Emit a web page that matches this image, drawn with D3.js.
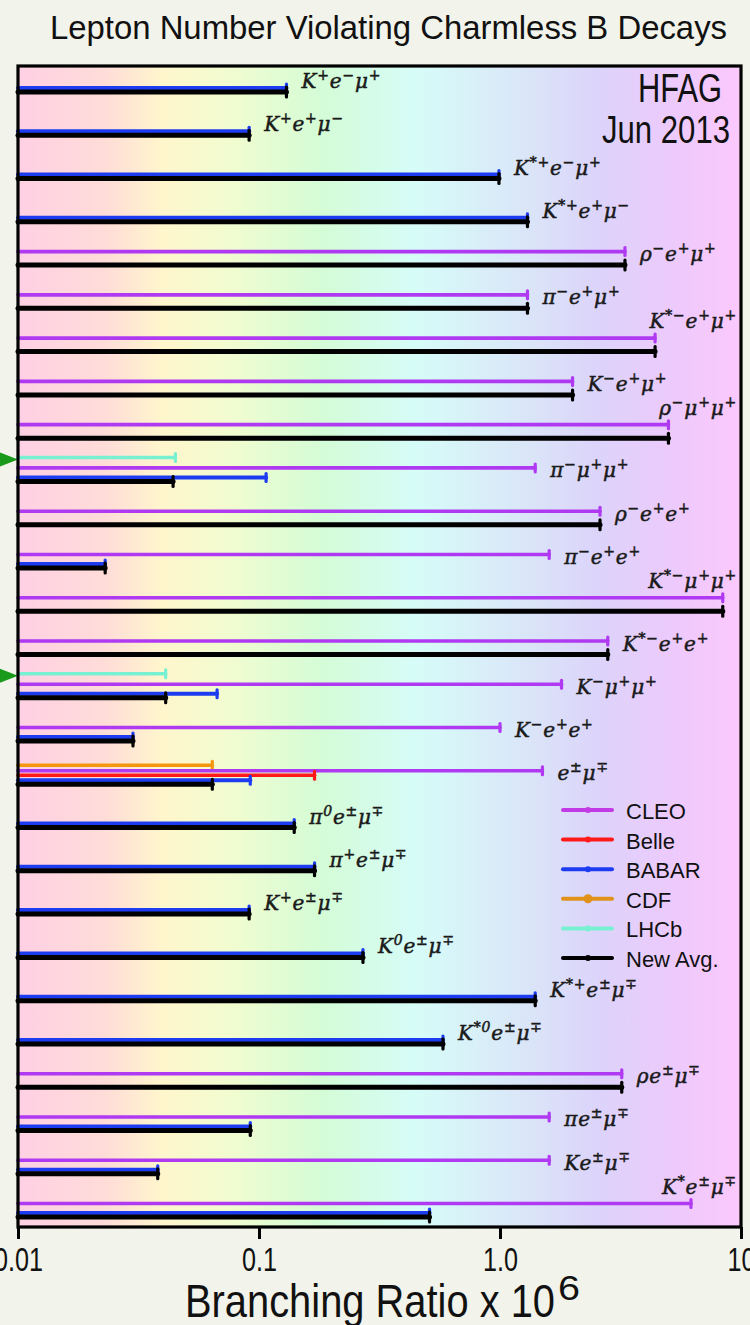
<!DOCTYPE html>
<html><head><meta charset="utf-8">
<script src="https://cdn.jsdelivr.net/npm/d3@7"></script>
<style>body{margin:0;background:#f2f3ea;} svg{display:block}</style>
</head><body>
<svg id="chart" width="750" height="1325"></svg>
<script>
// ---------------- data ----------------
const decays = [
  "K^+e^−μ^+", "K^+e^+μ^−", "K^{*+}e^−μ^+", "K^{*+}e^+μ^−", "ρ^−e^+μ^+",
  "π^−e^+μ^+", "K^{*−}e^+μ^+", "K^−e^+μ^+", "ρ^−μ^+μ^+", "π^−μ^+μ^+",
  "ρ^−e^+e^+", "π^−e^+e^+", "K^{*−}μ^+μ^+", "K^{*−}e^+e^+", "K^−μ^+μ^+",
  "K^−e^+e^+", "e^±μ^∓", "π^0e^±μ^∓", "π^+e^±μ^∓", "K^+e^±μ^∓",
  "K^0e^±μ^∓", "K^{*+}e^±μ^∓", "K^{*0}e^±μ^∓", "ρe^±μ^∓", "πe^±μ^∓",
  "Ke^±μ^∓", "K^*e^±μ^∓"
];
const cleo  = [null,null,null,null,3.3, 1.3,4.4,2.0,5.0,1.4, 2.6,1.6,8.4,2.8,1.8, 1.0,1.5,null,null,null, null,null,null,3.2,1.6, 1.6,6.2];
const belle = [null,null,null,null,null, null,null,null,null,null, null,null,null,null,null, null,0.17,null,null,null, null,null,null,null,null, null,null];
const babar = [0.13,0.091,0.99,1.3,null, null,null,null,null,0.107, null,0.023,null,null,0.067, 0.030,0.092,0.14,0.17,0.091, 0.27,1.4,0.58,null,0.092, 0.038,0.51];
const cdf   = [null,null,null,null,null, null,null,null,null,null, null,null,null,null,null, null,0.064,null,null,null, null,null,null,null,null, null,null];
const lhcb  = [null,null,null,null,null, null,null,null,null,0.045, null,null,null,null,0.041, null,null,null,null,null, null,null,null,null,null, null,null];
const newAvg= [0.13,0.091,0.99,1.3,3.3, 1.3,4.4,2.0,5.0,0.044, 2.6,0.023,8.4,2.8,0.041, 0.030,0.064,0.14,0.17,0.091, 0.27,1.4,0.58,3.2,0.092, 0.038,0.51];
const tickValues = [0.01, 0.1, 1, 10];
const tickLabels = ["0.01", "0.1", "1.0", "10"];
const legendNames = ["CLEO", "Belle", "BABAR", "CDF", "LHCb", "New Avg."];

// ---------------- styles ----------------
const series = {
  "LHCb":    {values: lhcb,   color: "#78f0d2", dy: -24,   w: 3.5, cap: 11},
  "CDF":     {values: cdf,    color: "#f5960f", dy: -19,   w: 3.5, cap: 11},
  "CLEO":    {values: cleo,   color: "#b03af2", dy: -13.5, w: 3.6, cap: 11},
  "Belle":   {values: belle,  color: "#ff1a1a", dy: -9,    w: 3.5, cap: 11},
  "BABAR":   {values: babar,  color: "#1d3cf2", dy: -4,    w: 4,   cap: 11},
  "New Avg.":{values: newAvg, color: "#000000", dy: 0,     w: 5,   cap: 13}
};
const legendColor = {"CLEO": "#c23ae6", "CDF": "#e0921a"};
const drawOrder = ["LHCb","CDF","CLEO","Belle","BABAR","New Avg."];
const sansFont = "Liberation Sans, Arial, Helvetica, sans-serif";

const W = 750, H = 1325;
const plot = {left: 18, right: 741, top: 66, bottom: 1227};
const svg = d3.select("#chart");

svg.append("rect").attr("width", W).attr("height", H).attr("fill", "#f2f3ea");

const defs = svg.append("defs");
const grad = defs.append("linearGradient").attr("id", "bg").attr("x1", "0%").attr("x2", "100%").attr("y1", "0%").attr("y2", "0%");
[[0,"#ffd0e4"],[0.12,"#ffdcd8"],[0.2,"#fff6cc"],[0.3,"#f0fcd0"],[0.42,"#d4fcd6"],
 [0.55,"#d6fcf8"],[0.7,"#dae6f8"],[0.8,"#dcd4fa"],[0.9,"#eccafc"],[1,"#fcc8fc"]]
 .forEach(([o,c]) => grad.append("stop").attr("offset", o).attr("stop-color", c));

svg.append("rect").attr("x", plot.left).attr("y", plot.top)
  .attr("width", plot.right - plot.left).attr("height", plot.bottom - plot.top)
  .attr("fill", "url(#bg)");

const x = d3.scaleLog().domain([0.01, 10]).range([plot.left, plot.right]);
const y = d3.scalePoint().domain(d3.range(decays.length)).range([92, 1217]);

// ---------------- bars ----------------
const gBars = svg.append("g");
drawOrder.forEach(name => {
  const s = series[name];
  const pts = s.values.map((v, i) => ({v, i})).filter(d => d.v != null);
  const g = gBars.append("g");
  g.selectAll("line").data(pts).join("line")
    .attr("x1", x(0.01)).attr("x2", d => x(d.v))
    .attr("y1", d => y(d.i) + s.dy).attr("y2", d => y(d.i) + s.dy)
    .attr("stroke", s.color).attr("stroke-width", s.w).attr("stroke-linecap", "round");
  g.selectAll("rect").data(pts).join("rect")
    .attr("x", d => x(d.v) - 1.6).attr("width", 3.2)
    .attr("y", d => y(d.i) + s.dy - s.cap / 2).attr("height", s.cap)
    .attr("rx", 1.5).attr("fill", s.color);
});

// ---------------- labels ----------------
function addLabel(sel, str) {
  const re = /\^\{([^}]*)\}|\^(.)|([^^])/g;
  let m, sup = false;
  while ((m = re.exec(str)) !== null) {
    if (m[1] !== undefined || m[2] !== undefined) {
      const t = m[1] !== undefined ? m[1] : m[2];
      sel.append("tspan").attr("font-size", 14).attr("dy", sup ? 0 : -8).text(t);
      sup = true;
    } else {
      sel.append("tspan").attr("font-size", 20).attr("dy", sup ? 8 : 0).text(m[3]);
      sup = false;
    }
  }
}
const gLab = svg.append("g").attr("font-family", "DejaVu Serif, serif").attr("font-style", "italic")
  .attr("fill", "#1a1a1a").attr("stroke", "#1a1a1a").attr("stroke-width", 0.5)
  .style("letter-spacing", "0.8px");
decays.forEach((lab, i) => {
  const present = drawOrder.filter(n => series[n].values[i] != null);
  const top = d3.min(present, n => series[n].dy);
  const vmax = d3.max(present, n => series[n].values[i]);
  const t = gLab.append("text").attr("x", x(vmax) + 15).attr("y", y(i) - 4);
  addLabel(t, lab);
  const w = t.node().getComputedTextLength();
  if (x(vmax) + 15 + w > 739) {
    t.attr("text-anchor", "end").attr("x", 737).attr("y", y(i) + top - 10);
  }
});

// ---------------- LHCb arrows ----------------
svg.append("g").selectAll("path")
  .data(lhcb.map((v, i) => ({v, i})).filter(d => d.v != null)).join("path")
  .attr("d", d => { const yy = y(d.i) + series["LHCb"].dy + 2; return `M0,${yy-7}L${plot.left},${yy}L0,${yy+7}Z`; })
  .attr("fill", "#1a9a1a");

// ---------------- frame & axis ----------------
svg.append("rect").attr("x", plot.left).attr("y", plot.top)
  .attr("width", plot.right - plot.left).attr("height", plot.bottom - plot.top)
  .attr("fill", "none").attr("stroke", "#000").attr("stroke-width", 3.2);

const axis = d3.axisBottom(x).tickValues(tickValues).tickFormat((d, i) => tickLabels[i]).tickSize(12).tickSizeOuter(0);
const gAxis = svg.append("g").attr("transform", `translate(0,${plot.bottom})`).call(axis);
gAxis.select(".domain").remove();
gAxis.selectAll(".tick line").attr("stroke", "#000").attr("stroke-width", 3);
gAxis.selectAll(".tick text").attr("y", 0).attr("dy", null)
  .attr("transform", "translate(0,44) scale(0.74,1)")
  .attr("font-size", 34).attr("font-family", sansFont).attr("fill", "#111");

// ---------------- legend ----------------
const gLeg = svg.append("g");
legendNames.forEach((n, k) => {
  const s = series[n];
  const c = legendColor[n] || s.color;
  const ly = 810 + k * 29.6;
  gLeg.append("line").attr("x1", 563).attr("x2", 612).attr("y1", ly).attr("y2", ly)
    .attr("stroke", c).attr("stroke-width", 4).attr("stroke-linecap", "round");
  gLeg.append("circle").attr("cx", 588).attr("cy", ly).attr("r", n === "CDF" ? 4.5 : 3).attr("fill", c);
  gLeg.append("text").attr("x", 626).attr("y", ly + 9).attr("font-size", 22)
    .attr("font-family", sansFont).attr("fill", "#111").text(n);
});

// ---------------- texts ----------------
svg.append("text").attr("x", 50).attr("y", 39).attr("font-size", 34).attr("font-family", sansFont)
  .attr("textLength", 677).attr("lengthAdjust", "spacingAndGlyphs").attr("fill", "#111")
  .text("Lepton Number Violating Charmless B Decays");
svg.append("text").attr("x", 638).attr("y", 102).attr("font-size", 40).attr("font-family", sansFont)
  .attr("textLength", 84).attr("lengthAdjust", "spacingAndGlyphs").attr("fill", "#111").text("HFAG");
svg.append("text").attr("x", 602).attr("y", 143).attr("font-size", 38).attr("font-family", sansFont)
  .attr("textLength", 128).attr("lengthAdjust", "spacingAndGlyphs").attr("fill", "#111").text("Jun 2013");
svg.append("text").attr("x", 185).attr("y", 1317).attr("font-size", 47).attr("font-family", sansFont)
  .attr("textLength", 370).attr("lengthAdjust", "spacingAndGlyphs").attr("fill", "#111").text("Branching Ratio x 10");
svg.append("text").attr("x", 558).attr("y", 1300).attr("font-size", 35).attr("font-family", sansFont)
  .attr("textLength", 22).attr("lengthAdjust", "spacingAndGlyphs").attr("fill", "#111").text("6");
</script>
</body></html>
